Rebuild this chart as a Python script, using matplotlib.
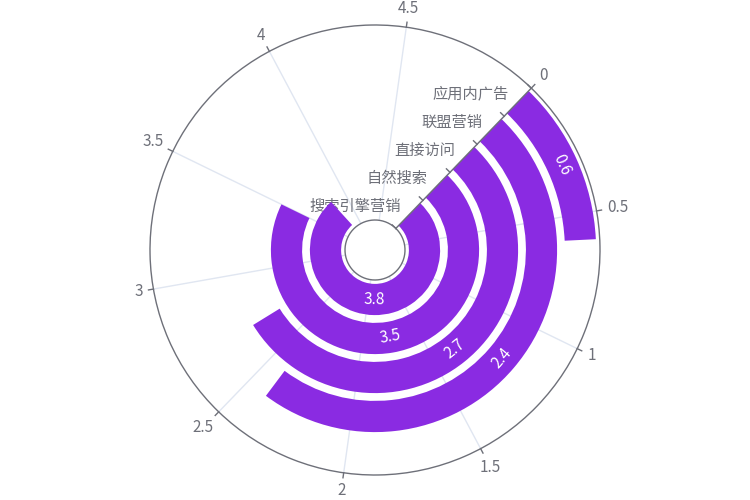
import numpy as np
import matplotlib
matplotlib.use('Agg')
import matplotlib.pyplot as plt

plt.rcParams['font.family'] = ['Noto Sans CJK SC', 'DejaVu Sans']

# 数据
categories = ['搜索引擎营销', '自然搜索', '直接访问', '联盟营销', '应用内广告']
values = [3.8, 3.5, 2.7, 2.4, 0.6]
angle_ticks = [0, 0.5, 1, 1.5, 2, 2.5, 3, 3.5, 4, 4.5]
angle_max = 5

BAR_COLOR = '#8A2BE2'
AXIS_COLOR = '#6E7079'
SPLIT_COLOR = '#E0E6F1'
FS = 11
START = 46          # 角度轴 0 的屏幕角度(度)
R_IN, R_OUT = 30, 225   # 像素
band = (R_OUT - R_IN) / len(categories)
bar_w = band * 0.8
centers = R_IN + band * (np.arange(len(categories)) + 0.5)


def th(v):
    return np.asarray(v) / angle_max * 2 * np.pi


fig = plt.figure(figsize=(7.5, 5), dpi=100)
ax = fig.add_axes([150 / 750, 25 / 500, 450 / 750, 450 / 500], projection='polar')
ax.set_theta_offset(np.radians(START))
ax.set_theta_direction(-1)
ax.set_ylim(0, R_OUT)
ax.set_xticks([])
ax.set_yticks([])
ax.grid(False)
ax.spines['polar'].set_color(AXIS_COLOR)
ax.spines['polar'].set_linewidth(1)

# 分隔线 + 角度轴刻度
for t in angle_ticks:
    ax.plot([th(t)] * 2, [R_IN, R_OUT], color=SPLIT_COLOR, lw=1, zorder=1)
    ax.plot([th(t)] * 2, [R_OUT, R_OUT + 5], color=AXIS_COLOR, lw=1,
            zorder=5, clip_on=False)
    lab = f'{t:g}'
    a = np.radians(START - t / angle_max * 360)
    w = sum(4 if c == '.' else 8.5 for c in lab)
    d = 9.5 + abs(np.cos(a)) * w / 2 + abs(np.sin(a)) * 7.5
    ax.annotate(lab, xy=(th(t), R_OUT), xytext=(d * np.cos(a), d * np.sin(a)),
                textcoords='offset pixels', ha='center', va='center',
                fontsize=FS, color=AXIS_COLOR, annotation_clip=False)

# 内圈
circ = np.linspace(0, 2 * np.pi, 200)
ax.plot(circ, np.full_like(circ, R_IN), color=AXIS_COLOR, lw=1, zorder=5)

# 柱子
ax.bar(np.zeros(len(values)), bar_w, width=th(values), bottom=centers - bar_w / 2,
       align='edge', color=BAR_COLOR, zorder=3)

# 径向轴
ax.plot([0, 0], [R_IN, R_OUT], color=AXIS_COLOR, lw=1, zorder=5)
for i in range(len(categories) + 1):
    r = R_IN + band * i
    ax.plot([0, -np.arctan2(5, r)], [r, np.hypot(r, 5)], color=AXIS_COLOR,
            lw=1, zorder=5, clip_on=False)
perp = np.radians(START + 90)
for name, rc in zip(categories, centers):
    ax.annotate(name, xy=(0, rc), xytext=(12 * np.cos(perp), 12 * np.sin(perp)),
                textcoords='offset pixels', ha='right', va='center',
                fontsize=FS, color=AXIS_COLOR, zorder=2)

# 数值标签
for v, rc in zip(values, centers):
    a = START - v / 2 / angle_max * 360
    a = (a + 180) % 360 - 180
    rot = a + 90 if a < 0 else a - 90
    ax.text(th(v / 2), rc, f'{v}', rotation=rot, rotation_mode='anchor',
            ha='center', va='center', fontsize=FS, color='white', zorder=6)

fig.savefig('out.png', dpi=100)
